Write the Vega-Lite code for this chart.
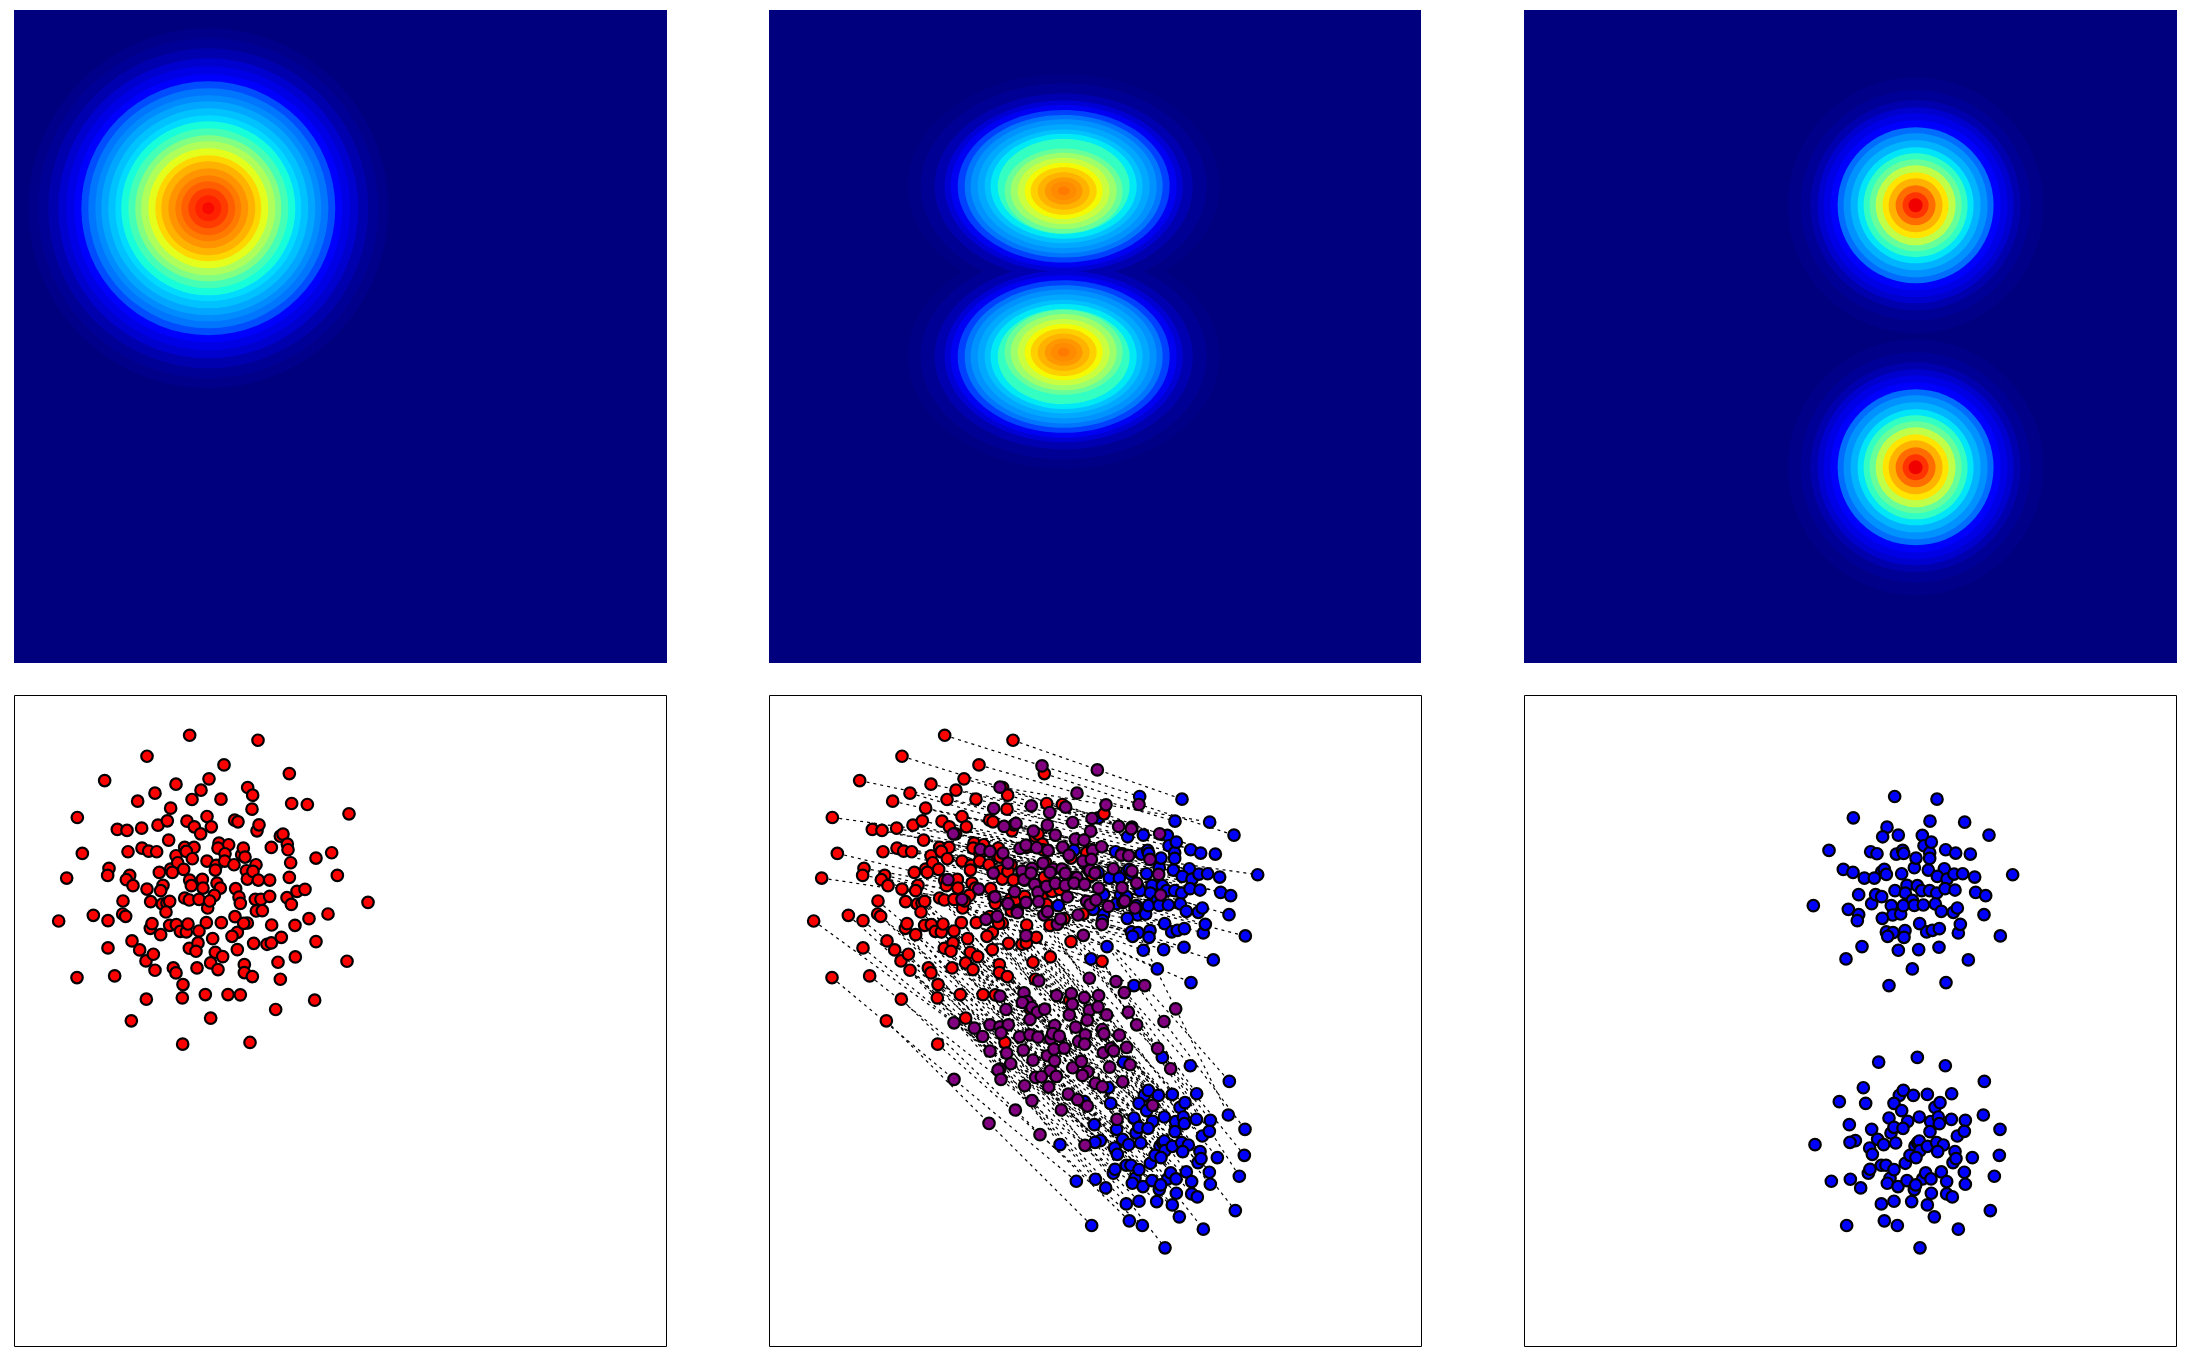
{"$schema":"https://vega.github.io/schema/vega-lite/v6.json",
"padding":{"left":13,"top":10,"right":0,"bottom":0},
"autosize":{"type":"pad"},
"config":{"view":{"stroke":null}},
"columns":3,
"spacing":{"row":31,"column":101},
"datasets":{
"ringsA":[
{"x":625,"y":639,"r":540,"v":0.01},{"x":625,"y":639,"r":510,"v":0.022},{"x":625,"y":639,"r":480,"v":0.042},{"x":625,"y":639,"r":450,"v":0.07},{"x":625,"y":639,"r":426,"v":0.09},{"x":625,"y":639,"r":402,"v":0.115},{"x":625,"y":639,"r":381,"v":0.16},{"x":625,"y":639,"r":360,"v":0.2},{"x":625,"y":639,"r":339,"v":0.225},{"x":625,"y":639,"r":321,"v":0.26},{"x":625,"y":639,"r":300,"v":0.3},{"x":625,"y":639,"r":279,"v":0.34},{"x":625,"y":639,"r":261,"v":0.39},{"x":625,"y":639,"r":240,"v":0.45},{"x":625,"y":639,"r":219,"v":0.52},{"x":625,"y":639,"r":201,"v":0.57},{"x":625,"y":639,"r":180,"v":0.63},{"x":625,"y":639,"r":159,"v":0.69},{"x":625,"y":639,"r":141,"v":0.74},{"x":625,"y":639,"r":120,"v":0.78},{"x":625,"y":639,"r":99,"v":0.81},{"x":625,"y":639,"r":81,"v":0.84},{"x":625,"y":639,"r":60,"v":0.87},{"x":625,"y":639,"r":39,"v":0.885},{"x":625,"y":639,"r":18,"v":0.9}],
"ringsB":[
{"x":927,"y":573,"r":468,"v":0.006},{"x":927,"y":1083,"r":468,"v":0.006},{"x":927,"y":573,"r":429,"v":0.02},{"x":927,"y":1083,"r":429,"v":0.02},{"x":927,"y":573,"r":387,"v":0.045},{"x":927,"y":1083,"r":387,"v":0.045},{"x":927,"y":573,"r":357,"v":0.075},{"x":927,"y":1083,"r":357,"v":0.075},{"x":927,"y":573,"r":339,"v":0.1},{"x":927,"y":1083,"r":339,"v":0.1},{"x":927,"y":573,"r":318,"v":0.15},{"x":927,"y":1083,"r":318,"v":0.15},{"x":927,"y":573,"r":297,"v":0.2},{"x":927,"y":1083,"r":297,"v":0.2},{"x":927,"y":573,"r":279,"v":0.235},{"x":927,"y":1083,"r":279,"v":0.235},{"x":927,"y":573,"r":258,"v":0.265},{"x":927,"y":1083,"r":258,"v":0.265},{"x":927,"y":573,"r":237,"v":0.3},{"x":927,"y":1083,"r":237,"v":0.3},{"x":927,"y":573,"r":219,"v":0.355},{"x":927,"y":1083,"r":219,"v":0.355},{"x":927,"y":573,"r":198,"v":0.43},{"x":927,"y":1083,"r":198,"v":0.43},{"x":927,"y":587,"r":177,"v":0.49},{"x":927,"y":1070,"r":177,"v":0.49},{"x":927,"y":587,"r":159,"v":0.55},{"x":927,"y":1070,"r":159,"v":0.55},{"x":927,"y":587,"r":138,"v":0.6},{"x":927,"y":1070,"r":138,"v":0.6},{"x":927,"y":587,"r":117,"v":0.645},{"x":927,"y":1070,"r":117,"v":0.645},{"x":927,"y":587,"r":99,"v":0.7},{"x":927,"y":1070,"r":99,"v":0.7},{"x":927,"y":587,"r":78,"v":0.74},{"x":927,"y":1070,"r":78,"v":0.74},{"x":927,"y":587,"r":57,"v":0.775},{"x":927,"y":1070,"r":57,"v":0.775},{"x":927,"y":587,"r":39,"v":0.79},{"x":927,"y":1070,"r":39,"v":0.79},{"x":927,"y":587,"r":18,"v":0.81},{"x":927,"y":1070,"r":18,"v":0.81}],
"ringsC":[
{"x":1216,"y":630,"r":384,"v":0.008},{"x":1216,"y":1415,"r":384,"v":0.008},{"x":1216,"y":630,"r":345,"v":0.022},{"x":1216,"y":1415,"r":345,"v":0.022},{"x":1216,"y":630,"r":315,"v":0.042},{"x":1216,"y":1415,"r":315,"v":0.042},{"x":1216,"y":630,"r":294,"v":0.07},{"x":1216,"y":1415,"r":294,"v":0.07},{"x":1216,"y":630,"r":276,"v":0.09},{"x":1216,"y":1415,"r":276,"v":0.09},{"x":1216,"y":630,"r":255,"v":0.12},{"x":1216,"y":1415,"r":255,"v":0.12},{"x":1216,"y":630,"r":234,"v":0.19},{"x":1216,"y":1415,"r":234,"v":0.19},{"x":1216,"y":630,"r":216,"v":0.235},{"x":1216,"y":1415,"r":216,"v":0.235},{"x":1216,"y":630,"r":195,"v":0.28},{"x":1216,"y":1415,"r":195,"v":0.28},{"x":1216,"y":630,"r":174,"v":0.35},{"x":1216,"y":1415,"r":174,"v":0.35},{"x":1216,"y":630,"r":156,"v":0.43},{"x":1216,"y":1415,"r":156,"v":0.43},{"x":1216,"y":630,"r":138,"v":0.49},{"x":1216,"y":1415,"r":138,"v":0.49},{"x":1216,"y":630,"r":120,"v":0.59},{"x":1216,"y":1415,"r":120,"v":0.59},{"x":1216,"y":630,"r":99,"v":0.67},{"x":1216,"y":1415,"r":99,"v":0.67},{"x":1216,"y":630,"r":81,"v":0.74},{"x":1216,"y":1415,"r":81,"v":0.74},{"x":1216,"y":630,"r":60,"v":0.825},{"x":1216,"y":1415,"r":60,"v":0.825},{"x":1216,"y":630,"r":39,"v":0.875},{"x":1216,"y":1415,"r":39,"v":0.875},{"x":1216,"y":630,"r":21,"v":0.91},{"x":1216,"y":1415,"r":21,"v":0.91}],
"pairs":[
{"ax":570,"ay":166,"mx":862,"my":258,"cx":1155,"cy":350},
{"ax":775,"ay":181,"mx":1028,"my":270,"cx":1282,"cy":358},
{"ax":869,"ay":281,"mx":1153,"my":374,"cx":1438,"cy":466},
{"ax":744,"ay":323,"mx":1054,"my":375,"cx":1365,"cy":427},
{"ax":673,"ay":255,"mx":967,"my":340,"cx":1261,"cy":424},
{"ax":628,"ay":297,"mx":933,"my":382,"cx":1238,"cy":467},
{"ax":604,"ay":331,"mx":885,"my":398,"cx":1166,"cy":466},
{"ax":529,"ay":313,"mx":830,"my":378,"cx":1132,"cy":442},
{"ax":442,"ay":229,"mx":736,"my":322,"cx":1031,"cy":414},
{"ax":315,"ay":302,"mx":717,"my":386,"cx":1119,"cy":471},
{"ax":233,"ay":413,"mx":596,"my":462,"cx":958,"cy":512},
{"ax":414,"ay":364,"mx":748,"my":440,"cx":1083,"cy":516},
{"ax":466,"ay":340,"mx":784,"my":431,"cx":1102,"cy":522},
{"ax":513,"ay":385,"mx":836,"my":454,"cx":1160,"cy":523},
{"ax":577,"ay":359,"mx":878,"my":436,"cx":1179,"cy":512},
{"ax":622,"ay":410,"mx":902,"my":466,"cx":1182,"cy":521},
{"ax":664,"ay":358,"mx":954,"my":428,"cx":1243,"cy":498},
{"ax":757,"ay":388,"mx":1008,"my":454,"cx":1260,"cy":519},
{"ax":759,"ay":346,"mx":1012,"my":416,"cx":1265,"cy":487},
{"ax":876,"ay":371,"mx":1092,"my":440,"cx":1308,"cy":510},
{"ax":923,"ay":374,"mx":1130,"my":447,"cx":1338,"cy":520},
{"ax":1048,"ay":402,"mx":1215,"my":462,"cx":1382,"cy":523},
{"ax":353,"ay":449,"mx":677,"my":509,"cx":1001,"cy":569},
{"ax":382,"ay":452,"mx":706,"my":515,"cx":1030,"cy":578},
{"ax":426,"ay":445,"mx":745,"my":520,"cx":1064,"cy":595},
{"ax":475,"ay":436,"mx":796,"my":506,"cx":1116,"cy":576},
{"ax":503,"ay":423,"mx":814,"my":496,"cx":1124,"cy":569},
{"ax":562,"ay":424,"mx":846,"my":504,"cx":1130,"cy":584},
{"ax":584,"ay":441,"mx":880,"my":512,"cx":1176,"cy":582},
{"ax":635,"ay":441,"mx":924,"my":502,"cx":1214,"cy":564},
{"ax":705,"ay":421,"mx":962,"my":478,"cx":1219,"cy":535},
{"ax":715,"ay":426,"mx":988,"my":481,"cx":1260,"cy":536},
{"ax":772,"ay":453,"mx":1014,"my":512,"cx":1256,"cy":571},
{"ax":778,"ay":435,"mx":1041,"my":501,"cx":1304,"cy":567},
{"ax":427,"ay":505,"mx":760,"my":550,"cx":1094,"cy":595},
{"ax":447,"ay":514,"mx":802,"my":574,"cx":1156,"cy":633},
{"ax":471,"ay":516,"mx":832,"my":566,"cx":1192,"cy":617},
{"ax":507,"ay":481,"mx":865,"my":550,"cx":1223,"cy":618},
{"ax":555,"ay":503,"mx":896,"my":568,"cx":1236,"cy":633},
{"ax":583,"ay":503,"mx":922,"my":568,"cx":1260,"cy":633},
{"ax":603,"ay":462,"mx":943,"my":526,"cx":1283,"cy":590},
{"ax":658,"ay":490,"mx":985,"my":544,"cx":1312,"cy":598},
{"ax":687,"ay":495,"mx":1010,"my":539,"cx":1333,"cy":583},
{"ax":842,"ay":469,"mx":1100,"my":526,"cx":1359,"cy":582},
{"ax":850,"ay":463,"mx":1122,"my":528,"cx":1395,"cy":592},
{"ax":863,"ay":493,"mx":1186,"my":539,"cx":1509,"cy":585},
{"ax":248,"ay":521,"mx":580,"my":600,"cx":911,"cy":678},
{"ax":385,"ay":516,"mx":716,"my":580,"cx":1047,"cy":645},
{"ax":529,"ay":528,"mx":808,"my":600,"cx":1086,"cy":672},
{"ax":560,"ay":515,"mx":829,"my":580,"cx":1098,"cy":645},
{"ax":655,"ay":505,"mx":886,"my":578,"cx":1116,"cy":651},
{"ax":676,"ay":522,"mx":932,"my":581,"cx":1187,"cy":640},
{"ax":726,"ay":525,"mx":967,"my":594,"cx":1208,"cy":662},
{"ax":731,"ay":505,"mx":1006,"my":572,"cx":1281,"cy":640},
{"ax":736,"ay":532,"mx":1021,"my":580,"cx":1306,"cy":627},
{"ax":815,"ay":503,"mx":1076,"my":567,"cx":1336,"cy":631},
{"ax":865,"ay":510,"mx":1132,"my":574,"cx":1398,"cy":638},
{"ax":996,"ay":519,"mx":1212,"my":584,"cx":1428,"cy":648},
{"ax":328,"ay":566,"mx":672,"my":628,"cx":1016,"cy":689},
{"ax":513,"ay":568,"mx":780,"my":636,"cx":1047,"cy":705},
{"ax":534,"ay":549,"mx":840,"my":614,"cx":1145,"cy":678},
{"ax":552,"ay":569,"mx":850,"my":638,"cx":1149,"cy":706},
{"ax":578,"ay":537,"mx":876,"my":620,"cx":1173,"cy":703},
{"ax":622,"ay":544,"mx":902,"my":611,"cx":1181,"cy":678},
{"ax":650,"ay":557,"mx":932,"my":617,"cx":1214,"cy":677},
{"ax":675,"ay":544,"mx":958,"my":610,"cx":1241,"cy":676},
{"ax":703,"ay":555,"mx":990,"my":614,"cx":1277,"cy":673},
{"ax":769,"ay":555,"mx":1032,"my":625,"cx":1295,"cy":695},
{"ax":873,"ay":549,"mx":1102,"my":624,"cx":1331,"cy":698},
{"ax":949,"ay":535,"mx":1146,"my":610,"cx":1343,"cy":685},
{"ax":201,"ay":595,"mx":622,"my":659,"cx":1043,"cy":723},
{"ax":324,"ay":587,"mx":721,"my":652,"cx":1118,"cy":716},
{"ax":390,"ay":587,"mx":760,"my":672,"cx":1130,"cy":757},
{"ax":479,"ay":578,"mx":814,"my":668,"cx":1150,"cy":759},
{"ax":518,"ay":578,"mx":852,"my":666,"cx":1186,"cy":753},
{"ax":647,"ay":571,"mx":938,"my":652,"cx":1230,"cy":732},
{"ax":740,"ay":573,"mx":996,"my":665,"cx":1251,"cy":757},
{"ax":743,"ay":598,"mx":1006,"my":675,"cx":1268,"cy":752},
{"ax":760,"ay":575,"mx":1024,"my":661,"cx":1289,"cy":747},
{"ax":776,"ay":601,"mx":1061,"my":680,"cx":1346,"cy":760},
{"ax":869,"ay":593,"mx":1110,"my":664,"cx":1352,"cy":734},
{"ax":1013,"ay":587,"mx":1218,"my":646,"cx":1423,"cy":705},
{"ax":380,"ay":600,"mx":694,"my":719,"cx":1009,"cy":838},
{"ax":400,"ay":618,"mx":728,"my":710,"cx":1057,"cy":801},
{"ax":442,"ay":628,"mx":788,"my":699,"cx":1134,"cy":770},
{"ax":490,"ay":617,"mx":814,"my":768,"cx":1138,"cy":918},
{"ax":570,"ay":601,"mx":868,"my":706,"cx":1166,"cy":812},
{"ax":575,"ay":618,"mx":879,"my":696,"cx":1183,"cy":773},
{"ax":608,"ay":599,"mx":908,"my":734,"cx":1208,"cy":868},
{"ax":610,"ay":625,"mx":918,"my":718,"cx":1227,"cy":810},
{"ax":652,"ay":610,"mx":970,"my":706,"cx":1288,"cy":803},
{"ax":662,"ay":625,"mx":986,"my":767,"cx":1309,"cy":909},
{"ax":708,"ay":627,"mx":1042,"my":734,"cx":1376,"cy":841},
{"ax":810,"ay":601,"mx":1141,"my":685,"cx":1472,"cy":769},
{"ax":483,"ay":633,"mx":736,"my":950,"cx":989,"cy":1267},
{"ax":555,"ay":655,"mx":808,"my":940,"cx":1061,"cy":1225},
{"ax":569,"ay":661,"mx":818,"my":966,"cx":1068,"cy":1272},
{"ax":598,"ay":659,"mx":852,"my":904,"cx":1107,"cy":1148},
{"ax":644,"ay":647,"mx":906,"my":948,"cx":1169,"cy":1248},
{"ax":718,"ay":652,"mx":950,"my":942,"cx":1181,"cy":1233},
{"ax":767,"ay":659,"mx":989,"my":954,"cx":1211,"cy":1248},
{"ax":784,"ay":659,"mx":1004,"my":896,"cx":1223,"cy":1134},
{"ax":810,"ay":650,"mx":1032,"my":948,"cx":1253,"cy":1245},
{"ax":862,"ay":654,"mx":1084,"my":906,"cx":1307,"cy":1159},
{"ax":892,"ay":635,"mx":1109,"my":939,"cx":1326,"cy":1243},
{"ax":916,"ay":629,"mx":1170,"my":918,"cx":1424,"cy":1206},
{"ax":370,"ay":664,"mx":754,"my":990,"cx":1138,"cy":1316},
{"ax":453,"ay":666,"mx":803,"my":969,"cx":1153,"cy":1272},
{"ax":488,"ay":673,"mx":832,"my":984,"cx":1176,"cy":1294},
{"ax":502,"ay":670,"mx":848,"my":998,"cx":1194,"cy":1326},
{"ax":510,"ay":665,"mx":870,"my":989,"cx":1229,"cy":1313},
{"ax":624,"ay":685,"mx":944,"my":1006,"cx":1263,"cy":1327},
{"ax":630,"ay":664,"mx":953,"my":974,"cx":1276,"cy":1284},
{"ax":722,"ay":671,"mx":1004,"my":992,"cx":1286,"cy":1313},
{"ax":770,"ay":694,"mx":1030,"my":982,"cx":1291,"cy":1270},
{"ax":788,"ay":693,"mx":1056,"my":1006,"cx":1325,"cy":1320},
{"ax":875,"ay":674,"mx":1121,"my":998,"cx":1367,"cy":1323},
{"ax":1105,"ay":668,"mx":1263,"my":988,"cx":1421,"cy":1307},
{"ax":177,"ay":724,"mx":598,"my":1030,"cx":1019,"cy":1336},
{"ax":281,"ay":707,"mx":659,"my":1046,"cx":1037,"cy":1384},
{"ax":325,"ay":723,"mx":706,"my":1036,"cx":1086,"cy":1350},
{"ax":369,"ay":703,"mx":736,"my":1042,"cx":1104,"cy":1380},
{"ax":378,"ay":710,"mx":761,"my":1036,"cx":1144,"cy":1361},
{"ax":499,"ay":697,"mx":826,"my":1020,"cx":1153,"cy":1344},
{"ax":620,"ay":729,"mx":900,"my":1038,"cx":1180,"cy":1347},
{"ax":665,"ay":729,"mx":963,"my":1043,"cx":1261,"cy":1357},
{"ax":706,"ay":711,"mx":998,"my":1022,"cx":1289,"cy":1333},
{"ax":743,"ay":730,"mx":1043,"my":1050,"cx":1343,"cy":1370},
{"ax":928,"ay":717,"mx":1146,"my":1036,"cx":1364,"cy":1356},
{"ax":985,"ay":703,"mx":1228,"my":1026,"cx":1471,"cy":1350},
{"ax":452,"ay":746,"mx":684,"my":1071,"cx":916,"cy":1396},
{"ax":457,"ay":732,"mx":739,"my":1060,"cx":1021,"cy":1389},
{"ax":510,"ay":737,"mx":795,"my":1072,"cx":1080,"cy":1406},
{"ax":530,"ay":735,"mx":826,"my":1066,"cx":1122,"cy":1396},
{"ax":542,"ay":755,"mx":850,"my":1073,"cx":1158,"cy":1391},
{"ax":560,"ay":757,"mx":888,"my":1078,"cx":1216,"cy":1400},
{"ax":565,"ay":733,"mx":894,"my":1062,"cx":1224,"cy":1390},
{"ax":598,"ay":754,"mx":914,"my":1070,"cx":1229,"cy":1385},
{"ax":713,"ay":758,"mx":972,"my":1086,"cx":1231,"cy":1414},
{"ax":732,"ay":731,"mx":992,"my":1066,"cx":1253,"cy":1401},
{"ax":816,"ay":736,"mx":1048,"my":1063,"cx":1281,"cy":1390},
{"ax":886,"ay":737,"mx":1094,"my":1067,"cx":1301,"cy":1397},
{"ax":325,"ay":805,"mx":706,"my":1115,"cx":1088,"cy":1425},
{"ax":397,"ay":784,"mx":756,"my":1121,"cx":1115,"cy":1458},
{"ax":483,"ay":765,"mx":806,"my":1112,"cx":1129,"cy":1458},
{"ax":569,"ay":806,"mx":878,"my":1129,"cx":1187,"cy":1452},
{"ax":595,"ay":790,"mx":898,"my":1109,"cx":1201,"cy":1428},
{"ax":639,"ay":777,"mx":929,"my":1106,"cx":1219,"cy":1435},
{"ax":697,"ay":770,"mx":990,"my":1094,"cx":1284,"cy":1417},
{"ax":762,"ay":791,"mx":1046,"my":1120,"cx":1330,"cy":1450},
{"ax":802,"ay":794,"mx":1069,"my":1106,"cx":1336,"cy":1417},
{"ax":815,"ay":790,"mx":1077,"my":1114,"cx":1339,"cy":1438},
{"ax":845,"ay":773,"mx":1116,"my":1104,"cx":1388,"cy":1435},
{"ax":949,"ay":786,"mx":1209,"my":1107,"cx":1469,"cy":1428},
{"ax":420,"ay":811,"mx":736,"my":1168,"cx":1053,"cy":1526},
{"ax":439,"ay":844,"mx":730,"my":1172,"cx":1022,"cy":1500},
{"ax":461,"ay":824,"mx":768,"my":1153,"cx":1076,"cy":1482},
{"ax":589,"ay":815,"mx":835,"my":1142,"cx":1081,"cy":1470},
{"ax":633,"ay":850,"mx":887,"my":1174,"cx":1141,"cy":1497},
{"ax":647,"ay":818,"mx":900,"my":1144,"cx":1153,"cy":1471},
{"ax":669,"ay":831,"mx":954,"my":1165,"cx":1239,"cy":1499},
{"ax":713,"ay":810,"mx":980,"my":1146,"cx":1248,"cy":1481},
{"ax":734,"ay":855,"mx":999,"my":1177,"cx":1264,"cy":1499},
{"ax":835,"ay":848,"mx":1065,"my":1163,"cx":1295,"cy":1478},
{"ax":887,"ay":832,"mx":1126,"my":1156,"cx":1364,"cy":1479},
{"ax":1042,"ay":845,"mx":1248,"my":1168,"cx":1454,"cy":1491},
{"ax":345,"ay":889,"mx":739,"my":1200,"cx":1133,"cy":1512},
{"ax":466,"ay":872,"mx":810,"my":1219,"cx":1153,"cy":1566},
{"ax":521,"ay":865,"mx":843,"my":1194,"cx":1165,"cy":1522},
{"ax":529,"ay":880,"mx":860,"my":1192,"cx":1192,"cy":1504},
{"ax":550,"ay":915,"mx":882,"my":1223,"cx":1214,"cy":1531},
{"ax":592,"ay":865,"mx":905,"my":1191,"cx":1218,"cy":1517},
{"ax":617,"ay":945,"mx":941,"my":1244,"cx":1265,"cy":1542},
{"ax":655,"ay":870,"mx":983,"my":1188,"cx":1311,"cy":1507},
{"ax":734,"ay":879,"mx":1022,"my":1212,"cx":1311,"cy":1544},
{"ax":758,"ay":891,"mx":1043,"my":1222,"cx":1328,"cy":1553},
{"ax":842,"ay":899,"mx":1104,"my":1207,"cx":1367,"cy":1515},
{"ax":232,"ay":894,"mx":598,"my":1200,"cx":965,"cy":1506},
{"ax":395,"ay":1024,"mx":703,"my":1332,"cx":1011,"cy":1639},
{"ax":440,"ay":959,"mx":782,"my":1292,"cx":1124,"cy":1625},
{"ax":549,"ay":1094,"mx":856,"my":1366,"cx":1163,"cy":1639},
{"ax":548,"ay":955,"mx":832,"my":1264,"cx":1115,"cy":1574},
{"ax":633,"ay":1016,"mx":920,"my":1292,"cx":1206,"cy":1567},
{"ax":751,"ay":1089,"mx":991,"my":1398,"cx":1231,"cy":1706},
{"ax":685,"ay":945,"mx":969,"my":1261,"cx":1253,"cy":1577},
{"ax":722,"ay":946,"mx":998,"my":1280,"cx":1274,"cy":1613},
{"ax":828,"ay":990,"mx":1087,"my":1320,"cx":1346,"cy":1650},
{"ax":945,"ay":962,"mx":1194,"my":1278,"cx":1442,"cy":1594}
]},
"concat":[
{"width":653,"height":653,"view":{"fill":"#00007f","stroke":null},"data":{"name":"ringsA"},
"mark":{"type":"point","filled":true,"opacity":1,"shape":"circle"},
"encoding":{"x":{"field":"x","type":"quantitative","axis":null,"scale":{"domain":[43,1999]}},"y":{"field":"y","type":"quantitative","axis":null,"scale":{"domain":[45,2001],"reverse":true}},
"size":{"field":"r","type":"quantitative","legend":null,"scale":{"type":"pow","exponent":2,"domain":[0,600],"range":[0,160000]}},
"color":{"field":"v","type":"quantitative","legend":null,"scale":{"domain":[0,0.11,0.125,0.34,0.35,0.375,0.64,0.65,0.66,0.89,0.91,1],"range":["#00007f","#0000ff","#0000ff","#00dbff","#00e5f7","#14ffe2","#eeff08","#f7f500","#ffec00","#ff1300","#f10000","#7f0000"]}}}},
{"width":652,"height":653,"view":{"fill":"#00007f","stroke":null},"data":{"name":"ringsB"},
"mark":{"type":"point","filled":true,"opacity":1,"shape":"M-1,0A1,0.72 0 1,1 1,0A1,0.72 0 1,1 -1,0Z"},
"encoding":{"x":{"field":"x","type":"quantitative","axis":null,"scale":{"domain":[43,1999]}},"y":{"field":"y","type":"quantitative","axis":null,"scale":{"domain":[45,2001],"reverse":true}},
"size":{"field":"r","type":"quantitative","legend":null,"scale":{"type":"pow","exponent":2,"domain":[0,600],"range":[0,160000]}},
"color":{"field":"v","type":"quantitative","legend":null,"scale":{"domain":[0,0.11,0.125,0.34,0.35,0.375,0.64,0.65,0.66,0.89,0.91,1],"range":["#00007f","#0000ff","#0000ff","#00dbff","#00e5f7","#14ffe2","#eeff08","#f7f500","#ffec00","#ff1300","#f10000","#7f0000"]}}}},
{"width":653,"height":653,"view":{"fill":"#00007f","stroke":null},"data":{"name":"ringsC"},
"mark":{"type":"point","filled":true,"opacity":1,"shape":"circle"},
"encoding":{"x":{"field":"x","type":"quantitative","axis":null,"scale":{"domain":[43,1999]}},"y":{"field":"y","type":"quantitative","axis":null,"scale":{"domain":[45,2001],"reverse":true}},
"size":{"field":"r","type":"quantitative","legend":null,"scale":{"type":"pow","exponent":2,"domain":[0,600],"range":[0,160000]}},
"color":{"field":"v","type":"quantitative","legend":null,"scale":{"domain":[0,0.11,0.125,0.34,0.35,0.375,0.64,0.65,0.66,0.89,0.91,1],"range":["#00007f","#0000ff","#0000ff","#00dbff","#00e5f7","#14ffe2","#eeff08","#f7f500","#ffec00","#ff1300","#f10000","#7f0000"]}}}},
{"width":652,"height":651,"view":{"stroke":"#000000","strokeWidth":1},"data":{"name":"pairs"},
"mark":{"type":"point","filled":true,"opacity":1,"fill":"#ff0000","stroke":"#000000","strokeWidth":2.2,"size":132},
"encoding":{"x":{"field":"ax","type":"quantitative","axis":null,"scale":{"domain":[43,1999]}},"y":{"field":"ay","type":"quantitative","axis":null,"scale":{"domain":[45,2001],"reverse":true}}}},
{"width":652,"height":651,"view":{"stroke":"#000000","strokeWidth":1},"data":{"name":"pairs"},
"layer":[
{"mark":{"type":"rule","stroke":"#000000","strokeWidth":1.2,"strokeDash":[3,4]},"encoding":{"x":{"field":"ax","type":"quantitative","axis":null,"scale":{"domain":[43,1999]}},"y":{"field":"ay","type":"quantitative","axis":null,"scale":{"domain":[45,2001],"reverse":true}},"x2":{"field":"cx"},"y2":{"field":"cy"}}},
{"mark":{"type":"point","filled":true,"opacity":1,"fill":"#0000ff","stroke":"#000000","strokeWidth":2.2,"size":132},"encoding":{"x":{"field":"cx","type":"quantitative","axis":null,"scale":{"domain":[43,1999]}},"y":{"field":"cy","type":"quantitative","axis":null,"scale":{"domain":[45,2001],"reverse":true}}}},
{"mark":{"type":"point","filled":true,"opacity":1,"fill":"#ff0000","stroke":"#000000","strokeWidth":2.2,"size":132},"encoding":{"x":{"field":"ax","type":"quantitative","axis":null,"scale":{"domain":[43,1999]}},"y":{"field":"ay","type":"quantitative","axis":null,"scale":{"domain":[45,2001],"reverse":true}}}},
{"mark":{"type":"point","filled":true,"opacity":1,"fill":"#800080","stroke":"#000000","strokeWidth":2.2,"size":132},"encoding":{"x":{"field":"mx","type":"quantitative","axis":null,"scale":{"domain":[43,1999]}},"y":{"field":"my","type":"quantitative","axis":null,"scale":{"domain":[45,2001],"reverse":true}}}}
]},
{"width":652,"height":651,"view":{"stroke":"#000000","strokeWidth":1},"data":{"name":"pairs"},
"mark":{"type":"point","filled":true,"opacity":1,"fill":"#0000ff","stroke":"#000000","strokeWidth":2.2,"size":132},
"encoding":{"x":{"field":"cx","type":"quantitative","axis":null,"scale":{"domain":[43,1999]}},"y":{"field":"cy","type":"quantitative","axis":null,"scale":{"domain":[45,2001],"reverse":true}}}}
]}
